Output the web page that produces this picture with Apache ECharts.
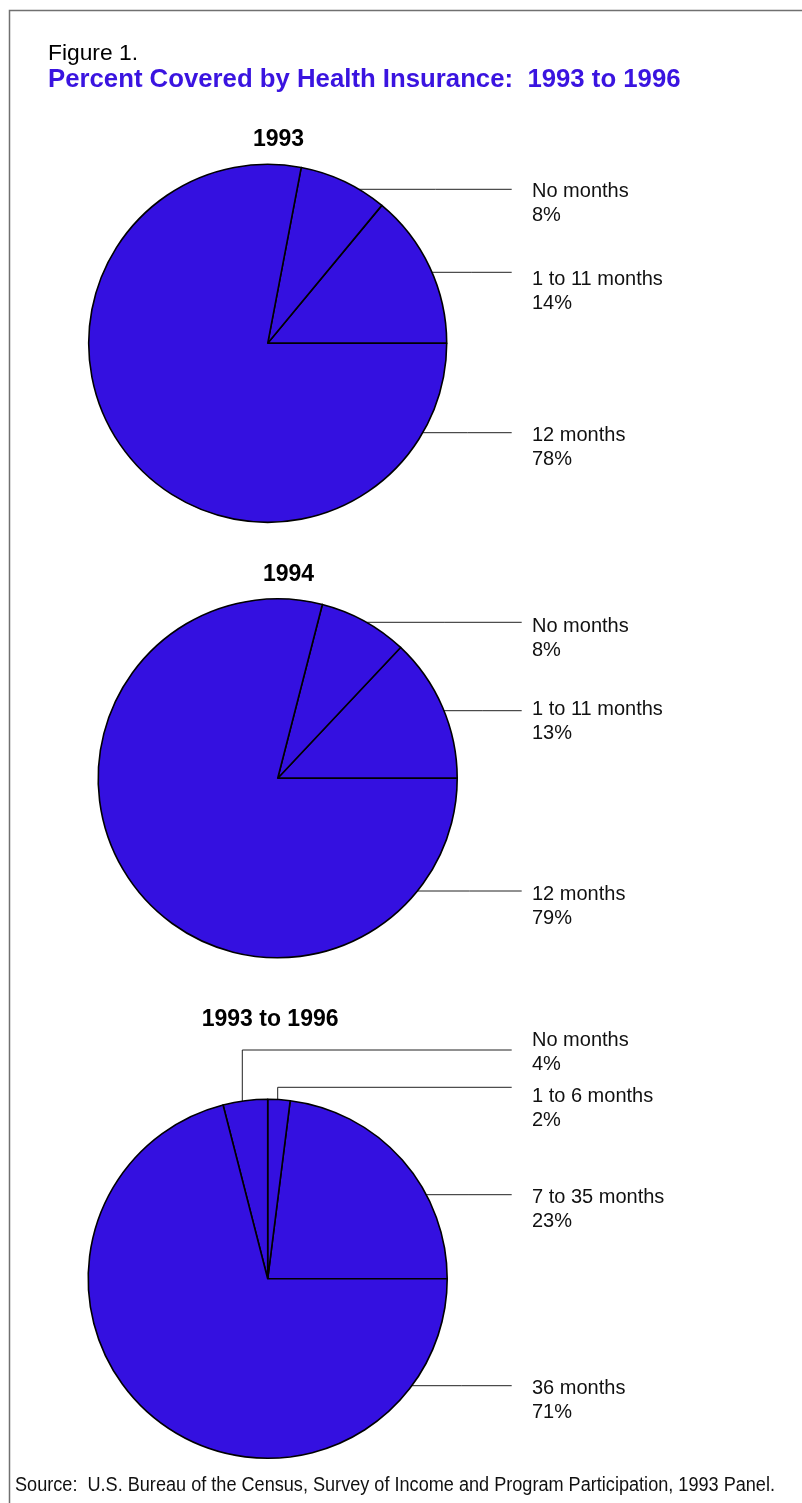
<!DOCTYPE html>
<html>
<head>
<meta charset="utf-8">
<title>Percent Covered by Health Insurance: 1993 to 1996</title>
<script src="https://cdn.jsdelivr.net/npm/echarts@6/dist/echarts.min.js"></script>
<style>
  html, body { margin: 0; padding: 0; background: #fff; }
  #chart { width: 802px; height: 1503px; }
</style>
</head>
<body>
<div id="chart"></div>
<script>
// Survey of Income and Program Participation, 1993 Panel: months covered by health insurance
const pieTitles = ['1993', '1994', '1993 to 1996'];

const cats1993 = ['1 to 11 months', 'No months', '12 months'];
const vals1993 = [14, 8, 78];

const cats1994 = ['1 to 11 months', 'No months', '12 months'];
const vals1994 = [13, 8, 79];

const catsPanel = ['7 to 35 months', '1 to 6 months', 'No months', '36 months'];
const valsPanel = [23, 2, 4, 71];

const sourceNote = 'Source:  U.S. Bureau of the Census, Survey of Income and Program Participation, 1993 Panel.';

const FONT = '"Liberation Sans", Arial, Helvetica, sans-serif';
const FILL = '#3410E0';

// Geometry of each pie and where its leader lines run (offsets from the pie centre)
const pieLayout = [
  { cx: 267.7, cy: 343.3, r: 179, titleLeft: 253, titleTop: 126,
    leaders: [
      { lineY: -71.0, textTop: -76.3 },
      { lineY: -154.0, textTop: -164.0 },
      { lineY: 89.4, textTop: 80.4 }
    ] },
  { cx: 277.7, cy: 778.3, r: 179.5, titleLeft: 263, titleTop: 561,
    leaders: [
      { lineY: -67.6, textTop: -80.6 },
      { lineY: -156.0, textTop: -164.0 },
      { lineY: 112.7, textTop: 104.4 }
    ] },
  { cx: 267.7, cy: 1278.8, r: 179.5, titleLeft: 201.7, titleTop: 1005.5,
    leaders: [
      { lineY: -84.1, textTop: -93.5 },
      { riseX: 10.0, lineY: -191.5, textTop: -194.5 },
      { riseX: -25.4, lineY: -228.8, textTop: -250.5 },
      { lineY: 106.9, textTop: 97.2 }
    ] }
];
const LABEL_X = 532;
const LINE_REACH = 244;

function toData(cats, vals) {
  return cats.map((c, i) => ({ name: c, value: vals[i] }));
}

function leaderLayout(seriesIdx) {
  const g = pieLayout[seriesIdx];
  return function (p) {
    const s = g.leaders[p.dataIndex];
    const ly = g.cy + s.lineY;
    const ex = g.cx + LINE_REACH;
    let pts;
    if (s.riseX != null) {
      const vx = g.cx + s.riseX;
      const vy = g.cy - Math.sqrt(g.r * g.r - s.riseX * s.riseX);
      pts = [[vx, vy], [vx, ly], [ex, ly]];
    } else {
      const sx = g.cx + Math.sqrt(g.r * g.r - s.lineY * s.lineY);
      pts = [[sx, ly], [(sx + ex) / 2, ly], [ex, ly]];
    }
    return {
      x: LABEL_X,
      y: g.cy + s.textTop,
      align: 'left',
      verticalAlign: 'top',
      labelLinePoints: pts
    };
  };
}

const datasets = [
  toData(cats1993, vals1993),
  toData(cats1994, vals1994),
  toData(catsPanel, valsPanel)
];

const series = datasets.map((d, i) => ({
  type: 'pie',
  center: [pieLayout[i].cx, pieLayout[i].cy],
  radius: [0, pieLayout[i].r],
  startAngle: 0,
  clockwise: false,
  avoidLabelOverlap: false,
  silent: true,
  animation: false,
  itemStyle: { color: FILL, borderColor: '#000', borderWidth: 1.6 },
  label: {
    show: true,
    position: 'outside',
    formatter: '{b}\n{c}%',
    color: '#111',
    fontFamily: FONT,
    fontSize: 20,
    lineHeight: 24
  },
  labelLine: {
    show: true,
    smooth: false,
    lineStyle: { color: '#222', width: 1 }
  },
  labelLayout: leaderLayout(i),
  emphasis: { disabled: true },
  data: d
}));

const titles = [
  { text: 'Figure 1.', left: 48, top: 40.5, padding: 0,
    textStyle: { fontFamily: FONT, fontSize: 22.8, fontWeight: 'normal', color: '#000', lineHeight: 26 } },
  { text: 'Percent Covered by Health Insurance:  1993 to 1996', left: 48, top: 65.2, padding: 0,
    textStyle: { fontFamily: FONT, fontSize: 25.75, fontWeight: 'bold', color: '#3A14E0', lineHeight: 30 } }
].concat(pieTitles.map((t, i) => ({
  text: t, left: pieLayout[i].titleLeft, top: pieLayout[i].titleTop, padding: 0,
  textStyle: { fontFamily: FONT, fontSize: 23, fontWeight: 'bold', color: '#000', lineHeight: 28 }
})));

// The source line is set in a narrow face: squeeze a 20px sans line to its width
const SOURCE_FONT = '20px "Liberation Sans"';
const SOURCE_WIDTH = 760;
const measureCtx = document.createElement('canvas').getContext('2d');
measureCtx.font = SOURCE_FONT;
const sourceScale = SOURCE_WIDTH / measureCtx.measureText(sourceNote).width;

const chart = echarts.init(document.getElementById('chart'), null, { renderer: 'canvas' });
chart.setOption({
  backgroundColor: '#fff',
  animation: false,
  title: titles,
  graphic: [{
    type: 'rect',
    silent: true,
    shape: { x: 9.5, y: 10.5, width: 900, height: 1600 },
    style: { fill: 'none', stroke: '#707070', lineWidth: 1.5 }
  }, {
    type: 'text',
    silent: true,
    x: 15,
    y: 1485,
    scaleX: sourceScale,
    style: {
      text: sourceNote,
      x: 0,
      y: 0,
      font: SOURCE_FONT,
      fill: '#111',
      align: 'left',
      verticalAlign: 'middle'
    }
  }],
  series: series
});
</script>
</body>
</html>
